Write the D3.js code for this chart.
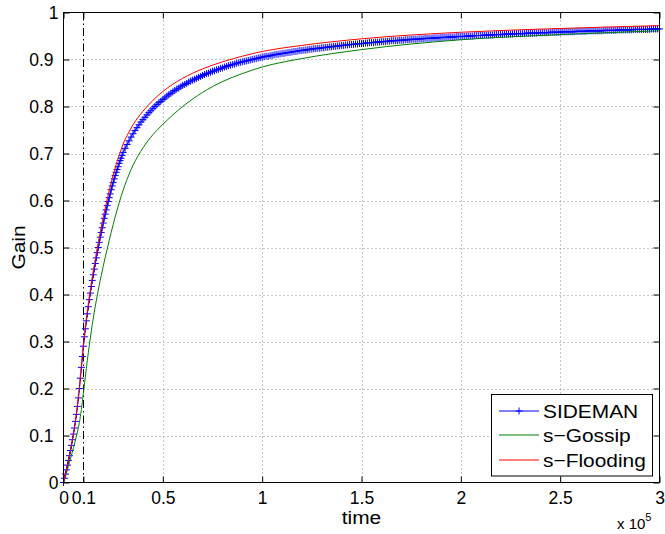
<!DOCTYPE html>
<html><head><meta charset="utf-8">
<script src="https://cdn.jsdelivr.net/npm/d3@7"></script>
<style>
body{margin:0;background:#fff}
svg{display:block}
text{font-family:"Liberation Sans",Arial,Helvetica,sans-serif;fill:#000}
</style>
</head><body>
<svg id="chart" width="665" height="534"></svg>
<script>
// ---------- data (time in units of 1e3; axis shows x 10^5) ----------
const xTickValues = [0, 10, 50, 100, 150, 200, 250, 300];
const xTickLabels = ["0", "0.1", "0.5", "1", "1.5", "2", "2.5", "3"];
const yTickValues = [0, 0.1, 0.2, 0.3, 0.4, 0.5, 0.6, 0.7, 0.8, 0.9, 1];
const yTickLabels = ["0", "0.1", "0.2", "0.3", "0.4", "0.5", "0.6", "0.7", "0.8", "0.9", "1"];
const xGridValues = [50, 100, 150, 200, 250];
const yGridValues = [0.1, 0.2, 0.3, 0.4, 0.5, 0.6, 0.7, 0.8, 0.9];
const referenceTime = 10;
const seriesNames = ["SIDEMAN", "s\u2212Gossip", "s\u2212Flooding"];
const seriesColors = ["#0000ff", "#008000", "#ff0000"];

const sidemanTime = [
0,0.5,1,1.5,2,2.5,3,3.5,4,4.5,5,5.5,6,6.5,7,7.5,8,8.5,9,9.5,
10,10.5,11,11.5,12,12.5,13,13.5,14,14.5,15,15.5,16,16.5,17,17.5,18,18.5,19,19.5,
20,20.5,21,21.5,22,22.5,23,23.5,24,24.5,25,25.5,26,26.5,27,27.5,28,28.5,29,29.5,30,
31,32,33,34,35,36,37,38,39,40,
41,42,43,44,45,46,47,48,49,50,
51,52,53,54,55,56,57,58,59,60,
61,62,63,64,65,66,67,68,69,70,
71,72,73,74,75,76,77,78,79,80,
81,82,83,84,85,86,87,88,89,90,
91,92,93,94,95,96,97,98,99,100,
101,102,103,104,105,106,107,108,109,110,
111,112,113,114,115,116,117,118,119,120,
121,122,123,124,125,126,127,128,129,130,
131,132,133,134,135,136,137,138,139,140,
141,142,143,144,145,146,147,148,149,150,
151,152,153,154,155,156,157,158,159,160,
161,162,163,164,165,166,167,168,169,170,
171,172,173,174,175,176,177,178,179,180,
181,182,183,184,185,186,187,188,189,190,
191,192,193,194,195,196,197,198,199,200,
201,202,203,204,205,206,207,208,209,210,
211,212,213,214,215,216,217,218,219,220,
221,222,223,224,225,226,227,228,229,230,
231,232,233,234,235,236,237,238,239,240,
241,242,243,244,245,246,247,248,249,250,
251,252,253,254,255,256,257,258,259,260,
261,262,263,264,265,266,267,268,269,270,
271,272,273,274,275,276,277,278,279,280,
281,282,283,284,285,286,287,288,289,290,
291,292,293,294,295,296,297,298,299,300];

const sidemanGain = [
0,0.009,0.018,0.027,0.037,0.047,0.057,0.068,0.079,0.091,0.103,0.116,0.13,0.145,0.162,0.18,0.2,0.222,0.245,0.268,
0.29,0.31,0.327,0.344,0.359,0.374,0.389,0.403,0.417,0.43,0.442,0.454,0.466,0.478,0.489,0.5,0.511,0.522,0.532,0.542,
0.552,0.562,0.571,0.58,0.589,0.598,0.606,0.614,0.623,0.631,0.638,0.646,0.653,0.66,0.666,0.672,0.679,0.685,0.69,0.696,0.702,
0.711,0.719,0.727,0.735,0.742,0.749,0.755,0.761,0.767,0.772,
0.777,0.782,0.787,0.791,0.796,0.800,0.804,0.808,0.811,0.815,
0.818,0.822,0.825,0.828,0.831,0.834,0.837,0.839,0.842,0.845,
0.847,0.849,0.852,0.854,0.856,0.858,0.860,0.862,0.864,0.866,
0.868,0.870,0.871,0.873,0.875,0.876,0.878,0.879,0.881,0.882,
0.884,0.885,0.887,0.888,0.889,0.890,0.892,0.893,0.894,0.895,
0.896,0.897,0.898,0.899,0.900,0.901,0.902,0.903,0.904,0.905,
0.906,0.907,0.907,0.908,0.909,0.910,0.911,0.911,0.912,0.913,
0.913,0.914,0.915,0.915,0.916,0.917,0.917,0.918,0.919,0.919,
0.920,0.920,0.921,0.922,0.922,0.923,0.923,0.924,0.924,0.925,
0.925,0.926,0.926,0.927,0.927,0.928,0.928,0.929,0.929,0.930,
0.930,0.931,0.931,0.932,0.932,0.932,0.933,0.933,0.934,0.934,
0.934,0.935,0.935,0.936,0.936,0.936,0.937,0.937,0.937,0.938,
0.938,0.938,0.939,0.939,0.940,0.940,0.940,0.940,0.941,0.941,
0.941,0.942,0.942,0.942,0.943,0.943,0.943,0.943,0.944,0.944,
0.944,0.945,0.945,0.945,0.945,0.946,0.946,0.946,0.946,0.947,
0.947,0.947,0.947,0.948,0.948,0.948,0.948,0.949,0.949,0.949,
0.949,0.949,0.950,0.950,0.950,0.950,0.951,0.951,0.951,0.951,
0.951,0.952,0.952,0.952,0.952,0.952,0.953,0.953,0.953,0.953,
0.953,0.954,0.954,0.954,0.954,0.954,0.955,0.955,0.955,0.955,
0.955,0.955,0.956,0.956,0.956,0.956,0.956,0.956,0.957,0.957,
0.957,0.957,0.957,0.957,0.958,0.958,0.958,0.958,0.958,0.958,
0.959,0.959,0.959,0.959,0.959,0.959,0.959,0.960,0.960,0.960,
0.960,0.960,0.960,0.961,0.961,0.961,0.961,0.961,0.961,0.961,
0.961,0.962,0.962,0.962,0.962,0.962,0.962,0.962,0.963,0.963,
0.963,0.963,0.963,0.963,0.963,0.963,0.964,0.964,0.964,0.964,
0.964,0.964,0.964,0.964,0.964,0.965,0.965,0.965,0.965,0.965];

const curveTime = [0,1,2,3,4,5,6,7,8,9,10,11,12,13,14,15,16,17,18,19,20,21,22,23,24,25,26,27,28,29,30,32,35,40,45,50,60,70,80,90,100,120,150,200,250,300];
const gossipGain = [0,0.013,0.028,0.043,0.058,0.074,0.09,0.107,0.128,0.155,0.19,0.225,0.26,0.292,0.322,0.35,0.375,0.398,0.42,0.44,0.46,0.479,0.497,0.515,0.532,0.549,0.565,0.58,0.595,0.609,0.622,0.645,0.675,0.712,0.74,0.762,0.8,0.83,0.853,0.87,0.884,0.902,0.921,0.942,0.953,0.961];
const floodingGain = [0,0.018,0.037,0.057,0.079,0.103,0.13,0.162,0.2,0.245,0.29,0.328,0.362,0.393,0.422,0.449,0.474,0.498,0.521,0.543,0.564,0.584,0.603,0.621,0.638,0.654,0.669,0.683,0.696,0.708,0.72,0.738,0.761,0.79,0.813,0.832,0.86,0.88,0.895,0.907,0.917,0.93,0.944,0.958,0.966,0.972];

// ---------- layout ----------
const W = 665, H = 534;
const plot = {left: 63.5, right: 659.5, top: 12.5, bottom: 482.5};
const TEXT_STRETCH = 1.1;
const svg = d3.select("#chart");
const x = d3.scaleLinear().domain([0, 300]).range([plot.left, plot.right]);
const y = d3.scaleLinear().domain([0, 1]).range([plot.bottom, plot.top]);

svg.append("rect").attr("width", W).attr("height", H).attr("fill", "#fff");

// grid
const grid = svg.append("g").attr("stroke", "#8c8c8c").attr("stroke-width", 1).attr("stroke-dasharray", "1,3");
grid.selectAll("line.gx").data(xGridValues).join("line")
  .attr("x1", d => Math.round(x(d)) + 0.5).attr("x2", d => Math.round(x(d)) + 0.5)
  .attr("y1", plot.top).attr("y2", plot.bottom);
grid.selectAll("line.gy").data(yGridValues).join("line")
  .attr("y1", d => Math.round(y(d)) + 0.5).attr("y2", d => Math.round(y(d)) + 0.5)
  .attr("x1", plot.left).attr("x2", plot.right);

// dash-dot reference line
svg.append("line")
  .attr("x1", Math.round(x(referenceTime)) + 0.5).attr("x2", Math.round(x(referenceTime)) + 0.5)
  .attr("y1", plot.top).attr("y2", plot.bottom)
  .attr("stroke", "#000").attr("stroke-width", 1).attr("stroke-dasharray", "8,3,1.5,3");

// axes (ticks inward on all four sides)
const fmtX = (d, i) => xTickLabels[i];
const gB = svg.append("g").attr("transform", `translate(0,${plot.bottom})`)
  .call(d3.axisBottom(x).tickValues(xTickValues).tickFormat(fmtX).tickSizeInner(-6).tickSizeOuter(0).tickPadding(9));
const gT = svg.append("g").attr("transform", `translate(0,${plot.top})`)
  .call(d3.axisTop(x).tickValues(xTickValues).tickFormat("").tickSizeInner(-6).tickSizeOuter(0));
const gL = svg.append("g").attr("transform", `translate(${plot.left},0)`)
  .call(d3.axisLeft(y).tickValues(yTickValues).tickFormat((d, i) => yTickLabels[i]).tickSizeInner(-6).tickSizeOuter(0).tickPadding(10));
const gR = svg.append("g").attr("transform", `translate(${plot.right},0)`)
  .call(d3.axisRight(y).tickValues(yTickValues).tickFormat("").tickSizeInner(-6).tickSizeOuter(0));
[gB, gT, gL, gR].forEach(g => {
  g.select(".domain").remove();
  g.selectAll(".tick line").attr("stroke", "#000");
  g.selectAll("text").attr("font-size", 17.5).attr("font-family", '"Liberation Sans",Arial,sans-serif').attr("fill", "#000");
});
gL.selectAll(".tick text").attr("x", function () { return this.textContent.length === 1 ? -5 : -10; });

// series
const lineGen = d3.line().x(d => x(d[0])).y(d => y(d[1]));
const smoothGen = d3.line().x(d => x(d[0])).y(d => y(d[1])).curve(d3.curveMonotoneX);
const sidemanPts = sidemanTime.map((t, i) => [t, sidemanGain[i]]);
const gossipPts = curveTime.map((t, i) => [t, gossipGain[i]]);
const floodPts = curveTime.map((t, i) => [t, floodingGain[i]]);

svg.append("path").datum(sidemanPts).attr("d", lineGen).attr("fill", "none").attr("stroke", seriesColors[0]).attr("stroke-width", 1);
svg.append("g").selectAll("path").data(sidemanPts).join("path")
  .attr("transform", d => `translate(${x(d[0])},${y(d[1])})`)
  .attr("d", "M-3.5,0H3.5M0,-3.5V3.5")
  .attr("stroke", seriesColors[0]).attr("stroke-width", 1).attr("fill", "none");
svg.append("path").datum(gossipPts).attr("d", smoothGen).attr("fill", "none").attr("stroke", seriesColors[1]).attr("stroke-width", 1);
svg.append("path").datum(floodPts).attr("d", smoothGen).attr("fill", "none").attr("stroke", seriesColors[2]).attr("stroke-width", 1);

// frame
svg.append("rect").attr("x", plot.left).attr("y", plot.top)
  .attr("width", plot.right - plot.left).attr("height", plot.bottom - plot.top)
  .attr("fill", "none").attr("stroke", "#000").attr("stroke-width", 1);

// axis labels
svg.append("text").attr("transform", `translate(${(plot.left + plot.right) / 2},524) scale(${TEXT_STRETCH},1)`)
  .attr("text-anchor", "middle").attr("font-size", 19).text("time");
svg.append("text").attr("transform", `translate(25,${(plot.top + plot.bottom) / 2}) rotate(-90) scale(${TEXT_STRETCH},1)`)
  .attr("text-anchor", "middle").attr("font-size", 19).text("Gain");
const mult = svg.append("text").attr("x", 617).attr("y", 529).attr("font-size", 15);
mult.append("tspan").text("x 10");
mult.append("tspan").attr("font-size", 11).attr("dy", -8).text("5");

// legend
const leg = svg.append("g");
leg.append("rect").attr("x", 491.5).attr("y", 394.5).attr("width", 161).attr("height", 81.5)
  .attr("fill", "#fff").attr("stroke", "#000").attr("stroke-width", 1);
const legRows = [411, 435, 460];
seriesNames.forEach((name, i) => {
  leg.append("line").attr("x1", 499).attr("x2", 539).attr("y1", legRows[i]).attr("y2", legRows[i])
    .attr("stroke", seriesColors[i]).attr("stroke-width", 1.2);
  if (i === 0) {
    leg.append("path").attr("transform", `translate(519,${legRows[i]})`).attr("d", "M-3.5,0H3.5M0,-3.5V3.5")
      .attr("stroke", seriesColors[i]).attr("stroke-width", 1);
  }
  leg.append("text").attr("transform", `translate(543,${legRows[i]}) scale(${TEXT_STRETCH},1)`)
    .attr("dy", "0.35em").attr("font-size", 19).text(name);
});
</script>
</body></html>
